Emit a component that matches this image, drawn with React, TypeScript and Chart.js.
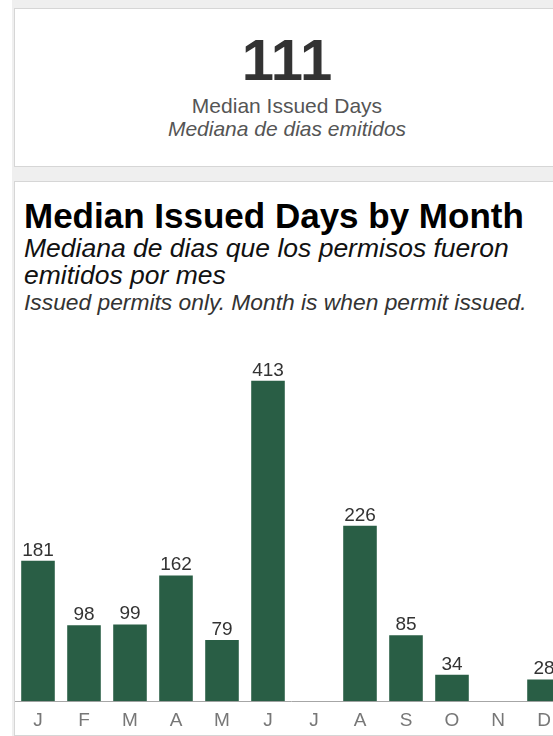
import React, { useEffect, useRef } from "react";
import { Chart, registerables } from "chart.js";

Chart.register(...registerables);

const months = ["J", "F", "M", "A", "M", "J", "J", "A", "S", "O", "N", "D"];
const medianDays: (number | null)[] = [181, 98, 99, 162, 79, 413, null, 226, 85, 34, null, 28];
const overallMedian = 111;
const yMax = 450;

const FONT = "'Liberation Sans', Arial, sans-serif";
const BAR_COLOR = "#295e45";

const valueLabels = {
  id: "valueLabels",
  afterDatasetsDraw(chart: any) {
    const ctx = chart.ctx;
    const meta = chart.getDatasetMeta(0);
    ctx.save();
    ctx.font = `19px ${FONT}`;
    ctx.fillStyle = "#333333";
    ctx.textAlign = "center";
    ctx.textBaseline = "alphabetic";
    meta.data.forEach((bar: any, i: number) => {
      const v = chart.data.datasets[0].data[i];
      if (v === null || v === undefined) return;
      ctx.fillText(String(v), bar.x, bar.y - 5);
    });
    ctx.restore();
  },
};

function BarChart() {
  const ref = useRef<HTMLCanvasElement | null>(null);
  useEffect(() => {
    if (!ref.current) return;
    const chart = new Chart(ref.current, {
      type: "bar",
      data: {
        labels: months,
        datasets: [
          {
            data: medianDays,
            backgroundColor: BAR_COLOR,
            borderWidth: 0,
            barPercentage: 0.73,
            categoryPercentage: 1,
          },
        ],
      },
      options: {
        responsive: false,
        animation: false,
        layout: { padding: { top: 0, bottom: 4, left: 0, right: 0 } },
        plugins: { legend: { display: false }, tooltip: { enabled: false } },
        scales: {
          x: {
            grid: { display: false, drawTicks: false },
            border: { display: true, color: "#a6a6a6", width: 1 },
            ticks: {
              color: "#777777",
              font: { family: FONT, size: 19 },
              padding: 8,
              maxRotation: 0,
            },
          },
          y: {
            display: false,
            min: 0,
            max: yMax,
          },
        },
      },
      plugins: [valueLabels],
    });
    return () => chart.destroy();
  }, []);
  return (
    <canvas
      ref={ref}
      width={552}
      height={392}
      style={{ position: "absolute", left: 15, top: 352, width: 552, height: 392 }}
    />
  );
}

export default function App() {
  const abs: React.CSSProperties = { position: "absolute", whiteSpace: "nowrap" };
  return (
    <div
      style={{
        position: "absolute",
        left: 0,
        top: 0,
        width: 553,
        height: 736,
        overflow: "hidden",
        background: "#ffffff",
        fontFamily: FONT,
      }}
    >
      <div style={{ ...abs, left: 12, top: 0, width: 600, height: 736, background: "#efefef" }} />
      {/* KPI card */}
      <div
        style={{
          ...abs,
          left: 14,
          top: 8,
          width: 600,
          height: 157,
          background: "#ffffff",
          border: "1px solid #d6d6d6",
        }}
      />
      <div
        style={{
          ...abs,
          left: 14,
          width: 546,
          top: 30,
          textAlign: "center",
          fontSize: 58,
          lineHeight: "60px",
          fontWeight: "bold",
          color: "#333333",
        }}
      >
        {overallMedian}
      </div>
      <div
        style={{
          ...abs,
          left: 14,
          width: 546,
          top: 94,
          textAlign: "center",
          fontSize: 21,
          lineHeight: "24px",
          color: "#555555",
        }}
      >
        Median Issued Days
      </div>
      <div
        style={{
          ...abs,
          left: 14,
          width: 546,
          top: 118,
          textAlign: "center",
          fontSize: 21,
          lineHeight: "22px",
          fontStyle: "italic",
          color: "#555555",
        }}
      >
        Mediana de dias emitidos
      </div>
      {/* Chart card */}
      <div
        style={{
          ...abs,
          left: 14,
          top: 181,
          width: 600,
          height: 553,
          background: "#ffffff",
          border: "1px solid #d6d6d6",
        }}
      />
      <div
        style={{
          ...abs,
          left: 24,
          top: 196,
          fontSize: 35,
          lineHeight: "40px",
          fontWeight: "bold",
          color: "#000000",
        }}
      >
        Median Issued Days by Month
      </div>
      <div
        style={{
          ...abs,
          left: 24,
          top: 235,
          fontSize: 26.5,
          lineHeight: "27px",
          fontStyle: "italic",
          color: "#111111",
          whiteSpace: "normal",
          width: 520,
        }}
      >
        Mediana de dias que los permisos fueron
        <br />
        emitidos por mes
      </div>
      <div
        style={{
          ...abs,
          left: 24,
          top: 289,
          fontSize: 22.8,
          lineHeight: "26px",
          fontStyle: "italic",
          color: "#333333",
        }}
      >
        Issued permits only. Month is when permit issued.
      </div>
      <BarChart />
    </div>
  );
}
